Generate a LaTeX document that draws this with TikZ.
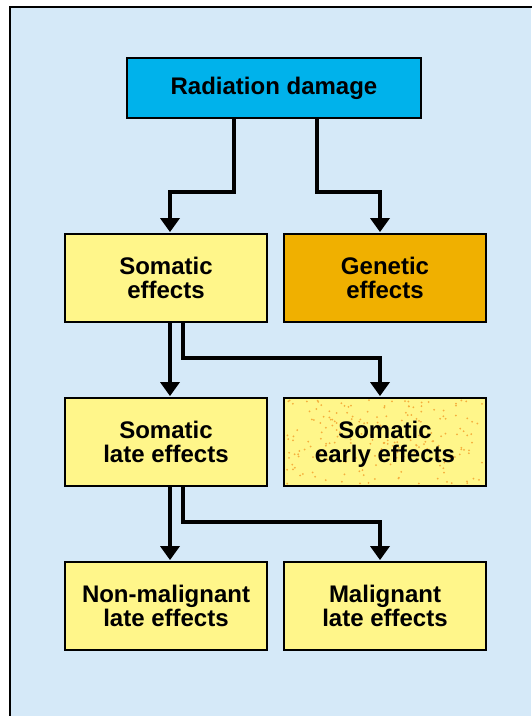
\documentclass[tikz,border=0pt]{standalone}
\usepackage{fontspec}
\setmainfont{Liberation Sans}
\usetikzlibrary{arrows.meta,calc}
\definecolor{bgblue}{HTML}{D5E9F8}
\definecolor{cyanbox}{HTML}{00B2EB}
\definecolor{yelbox}{HTML}{FFF68A}
\definecolor{orabox}{HTML}{F0B000}
\definecolor{dotc}{HTML}{F5AE3C}
\tikzset{
  box/.style={draw=black, line width=1.8pt, minimum width=202pt, minimum height=88pt,
    inner sep=0pt, align=center, font=\fontsize{24}{24}\selectfont\bfseries, fill=yelbox},
  conn/.style={line width=3.5pt, -{Triangle[width=19pt,length=14pt]}, shorten >=1pt},
  dotted box/.style={path picture={
      \pgfmathsetseed{11}
      \foreach \i in {1,...,200}{
        \fill[dotc] ($(path picture bounding box.north west)+({2+198*rnd},{2+84*rnd})$) circle (1pt);
      }}}
}
\begin{document}
\begin{tikzpicture}[x=1pt,y=-1pt]
\useasboundingbox (0,0) rectangle (531,716);
\fill[bgblue] (10,7) rectangle (531,716);
\draw[line width=2pt] (10,717) -- (10,7) -- (532,7);

\node[box, fill=cyanbox, minimum width=294pt, minimum height=60pt] (rad) at (274,88) {Radiation damage};
\node[box] (som) at (166,278) {Somatic\\effects};
\node[box, fill=orabox] (gen) at (385,278) {Genetic\\effects};
\node[box] (late) at (166,442) {Somatic\\late effects};
\node[box, dotted box] (early) at (385,442) {Somatic\\\smash{early effects}};
\node[box] (nonmal) at (166,606) {Non-malignant\\late effects};
\node[box] (mal) at (385,606) {Malignant\\late effects};

\coordinate (k1) at (234,192);
\coordinate (k2) at (317,192);
\coordinate (k3) at (183,358);
\coordinate (k4) at (183,522);

\draw[conn] (rad.south -| k1) -- (k1) -| ([xshift=4pt]som.north);
\draw[conn] (rad.south -| k2) -- (k2) -| ([xshift=-5pt]gen.north);
\draw[conn] ([xshift=4pt]som.south) -- ([xshift=4pt]late.north);
\draw[conn] (som.south -| k3) -- (k3) -| ([xshift=-5pt]early.north);
\draw[conn] ([xshift=4pt]late.south) -- ([xshift=4pt]nonmal.north);
\draw[conn] (late.south -| k4) -- (k4) -| ([xshift=-5pt]mal.north);
\end{tikzpicture}
\end{document}
